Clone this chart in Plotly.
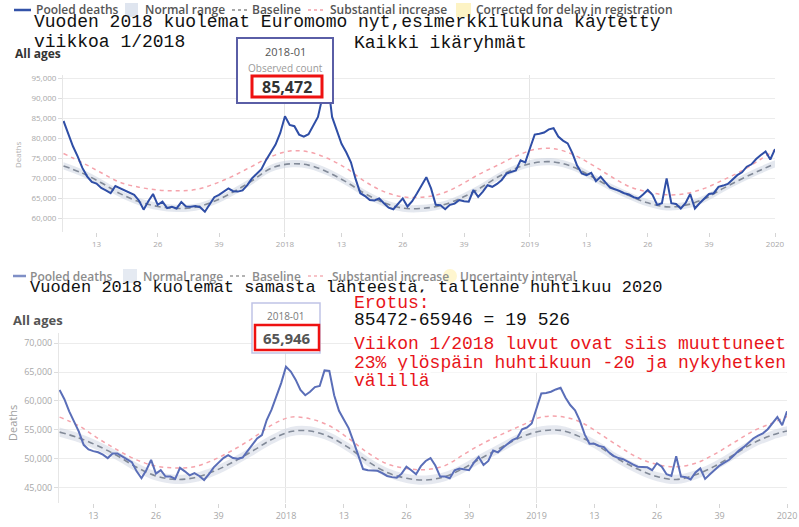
import plotly.graph_objects as go

W, H = 799, 527

# ---------------- data ----------------
# week offsets relative to ISO week 2018-01 (2017-06 ... 2020-01)
weeks = list(range(-47, 105))

top_pooled = [
    84300, 81000, 78000, 75500, 72600, 70500, 69100, 68700, 67600, 67000,   # -47..-38
    66300, 68100, 67500, 67000, 66400, 65900, 64500, 62200, 64300, 66100,   # -37..-28
    63400, 64200, 62600, 62900, 62500, 64100, 63000, 62900, 63100, 62800,   # -27..-18
    61700, 63400, 65300, 65900, 66600, 67500, 66800, 66700, 67000, 68300,   # -17..-8
    70000, 71200, 72300, 74600, 76500, 78400, 81300, 85472, 83300, 83000,   # -7..2
    80900, 80400, 81000, 83000, 85300, 90500, 95000, 85300, 81700, 78600,   # 3..12
    76500, 74000, 69800, 66300, 65600, 64600, 64500, 65000, 63800, 62700,   # 13..22
    62300, 63800, 65000, 63000, 64300, 66200, 68300, 70300, 67500, 63400,   # 23..32
    63300, 62300, 63400, 63700, 64600, 64300, 64200, 67100, 65400, 66700,   # 33..42
    68300, 67900, 68600, 69600, 71200, 71700, 72000, 74500, 74000, 77500,   # 43..52
    80900, 81100, 81400, 82200, 82500, 80400, 79400, 78700, 76300, 73200,   # 53..62
    71200, 70800, 71400, 69300, 70400, 69000, 67700, 67300, 66900, 66300,   # 63..72
    66000, 65300, 65000, 66000, 67100, 65900, 63400, 63800, 70000, 63800,   # 73..82
    63600, 62500, 63800, 66100, 62500, 63800, 65000, 66100, 66300, 67900,   # 83..92
    68200, 68600, 69700, 70800, 71500, 72900, 73500, 74800, 75800, 76700,   # 93..102
    74700, 77300,                                                           # 103..104
]

bot_pooled = [
    61900, 60300, 58200, 56400, 54700, 52400, 51600, 51300, 51100, 50700,   # -47..-38
    50100, 50900, 50900, 50400, 49900, 49400, 47800, 46600, 48000, 49800,   # -37..-28
    47400, 48000, 46900, 46900, 46500, 48400, 47800, 47100, 47500, 47000,   # -27..-18
    46300, 47300, 48500, 49300, 50100, 50600, 50100, 50000, 50200, 51300,   # -17..-8
    52500, 53500, 54100, 56700, 58500, 60800, 63100, 65946, 65100, 63700,   # -7..2
    61900, 61000, 61600, 62400, 62600, 65300, 65200, 61000, 58300, 56800,   # 3..12
    55300, 53000, 50400, 48200, 48000, 48000, 47900, 47500, 47000, 46800,   # 13..22
    46700, 47400, 48600, 48000, 47300, 48700, 49600, 50100, 48800, 46900,   # 23..32
    46900, 46600, 48000, 48300, 48200, 48000, 49300, 50300, 48900, 49600,   # 33..42
    51400, 51100, 51900, 52500, 53200, 53600, 55100, 55400, 56100, 58700,   # 43..52
    61300, 61400, 61600, 62000, 62300, 60600, 59300, 58400, 56600, 54200,   # 53..62
    52600, 52600, 52200, 52000, 51100, 50500, 50100, 49900, 49400, 49000,   # 63..72
    48600, 48600, 48500, 48000, 49200, 48600, 47300, 47000, 50400, 46900,   # 73..82
    46800, 46400, 47600, 48300, 46500, 47300, 48100, 48800, 49300, 49800,   # 83..92
    50600, 51400, 52000, 52700, 53500, 54000, 54400, 55100, 56100, 57200,   # 93..102
    55800, 58200,                                                           # 103..104
]

# reference curves read every 4 weeks
sample_weeks = [-47, -43, -39, -35, -31, -27, -23, -19, -15, -11, -7, -3, 1, 5, 9, 13,
                17, 21, 25, 29, 33, 37, 41, 45, 49, 53, 57, 61, 65, 69, 73, 77, 81,
                85, 89, 93, 97, 101, 104]

top_baseline = [73100, 71300, 68900, 66200, 64200, 63000, 62500, 62800, 64300, 66600,
                69400, 72500, 73600, 73300, 71600, 69100, 66200, 63900, 62600, 62500,
                63200, 64900, 67300, 70200, 72500, 73900, 74100, 72900, 70500, 67900,
                65700, 63900, 62900, 63300, 64900, 67500, 69900, 72100, 73600]
top_range_lo = [72200, 70400, 68000, 65300, 63300, 62100, 61600, 61900, 63400, 65700,
                68500, 71600, 72700, 72400, 70700, 68200, 65300, 63000, 61700, 61600,
                62300, 64000, 66400, 69300, 71600, 73000, 73200, 72000, 69600, 67000,
                64800, 63000, 62000, 62400, 64000, 66600, 69000, 71200, 72700]
top_range_hi = [74000, 72200, 69800, 67100, 65100, 63900, 63400, 63700, 65200, 67500,
                70300, 73400, 74500, 74200, 72500, 70000, 67100, 64800, 63500, 63400,
                64100, 65800, 68200, 71100, 73400, 74800, 75000, 73800, 71400, 68800,
                66600, 64800, 63800, 64200, 65800, 68400, 70800, 73000, 74500]
top_substantial = [76200, 73900, 71400, 69000, 67800, 67100, 66900, 67200, 68600, 70600,
                   73000, 75400, 76800, 76600, 75000, 72500, 69200, 66700, 65400, 65300,
                   66100, 68200, 70900, 73200, 75500, 77200, 77400, 76000, 73500, 70600,
                   68000, 66600, 65900, 66200, 67500, 69600, 71900, 74800, 77100]

bot_baseline = [54600, 53600, 52200, 50500, 48500, 47000, 46400, 46700, 47800, 49400,
                51300, 53300, 54700, 54800, 53800, 51900, 49500, 47600, 46600, 46300,
                46900, 48400, 50300, 52100, 53800, 54800, 54900, 53800, 52100, 49900,
                48200, 46900, 46400, 47200, 48700, 50700, 52700, 54100, 54800]
bot_range_lo = [53800, 52800, 51400, 49700, 47700, 46200, 45600, 45900, 47000, 48600,
                50500, 52500, 53900, 54000, 53000, 51100, 48700, 46800, 45800, 45500,
                46100, 47600, 49500, 51300, 53000, 54000, 54100, 53000, 51300, 49100,
                47400, 46100, 45600, 46400, 47900, 49900, 51900, 53300, 54000]
bot_range_hi = [55400, 54400, 53000, 51300, 49300, 47800, 47200, 47500, 48600, 50200,
                52100, 54100, 55500, 55600, 54600, 52700, 50300, 48400, 47400, 47100,
                47700, 49200, 51100, 52900, 54600, 55600, 55700, 54600, 52900, 50700,
                49000, 47700, 47200, 48000, 49500, 51500, 53500, 54900, 55600]
bot_substantial = [57200, 55700, 53500, 51500, 49800, 48700, 48400, 48600, 49800, 51500,
                   53500, 55800, 57200, 56900, 55700, 53500, 51000, 49100, 48300, 48100,
                   48800, 50800, 52700, 54300, 55800, 57200, 57300, 56400, 54400, 52200,
                   50200, 49000, 48600, 49200, 50800, 52800, 54800, 56200, 57300]

x_tick_weeks = [-40, -27, -14, 0, 12, 25, 38, 52, 64, 77, 90, 104]
x_tick_labels = ["13", "26", "39", "2018", "13", "26", "39", "2019", "13", "26", "39", "2020"]
year_weeks = [0, 52, 104]
top_y_ticks = [60000, 65000, 70000, 75000, 80000, 85000, 90000, 95000]
bot_y_ticks = [45000, 50000, 55000, 60000, 65000, 70000]

HIGHLIGHT_WEEK = 0
HIGHLIGHT_LABEL = "2018-01"

# ---------------- helpers (pixel -> paper) ----------------
def fx(p):
    return p / W

def fy(p):
    return 1 - p / H

MONO = "Liberation Mono"
SANS = "Open Sans"

fig = go.Figure()

def add_chart(xa, ya, pooled, base, lo, hi, subst, line_color, band_color):
    fig.add_trace(go.Scatter(x=sample_weeks, y=lo, mode="lines",
                             line=dict(width=0, shape="spline"), xaxis=xa, yaxis=ya,
                             hoverinfo="skip", showlegend=False))
    fig.add_trace(go.Scatter(x=sample_weeks, y=hi, mode="lines", fill="tonexty",
                             fillcolor=band_color,
                             line=dict(width=0, shape="spline"), xaxis=xa, yaxis=ya,
                             hoverinfo="skip", showlegend=False))
    fig.add_trace(go.Scatter(x=sample_weeks, y=base, mode="lines",
                             line=dict(color="#828a98", width=1.6, dash="6px,4px", shape="spline"),
                             xaxis=xa, yaxis=ya, showlegend=False))
    fig.add_trace(go.Scatter(x=sample_weeks, y=subst, mode="lines",
                             line=dict(color="#f5a3ab", width=1.5, dash="4px,4px", shape="spline"),
                             xaxis=xa, yaxis=ya, showlegend=False))
    fig.add_trace(go.Scatter(x=weeks, y=pooled, mode="lines",
                             line=dict(color=line_color, width=2),
                             xaxis=xa, yaxis=ya, showlegend=False))

add_chart("x", "y", top_pooled, top_baseline, top_range_lo, top_range_hi, top_substantial,
          "#2f4ea6", "rgba(195,203,220,0.45)")
add_chart("x2", "y2", bot_pooled, bot_baseline, bot_range_lo, bot_range_hi, bot_substantial,
          "#5a6eb8", "rgba(200,207,222,0.45)")

def xaxis_cfg(domain, rng, fsize):
    return dict(domain=domain, range=rng, tickmode="array", tickvals=x_tick_weeks,
                ticktext=x_tick_labels, showgrid=False, zeroline=False,
                ticks="outside", ticklen=4, tickcolor="#d5d5d5", automargin=False,
                tickfont=dict(family=SANS, size=fsize, color="#a8a8a8"),
                minor=dict(tickmode="array", tickvals=year_weeks, showgrid=True,
                           gridcolor="#e4e4e4", gridwidth=1, ticks=""),
                fixedrange=True)

def yaxis_cfg(domain, rng, ticks, fsize, anchor):
    return dict(domain=domain, range=rng, tickmode="array", tickvals=ticks,
                tickformat=",d", showgrid=True, gridcolor="#ececec", gridwidth=1,
                zeroline=False, ticks="outside", ticklen=4, tickcolor="#dddddd",
                showline=True, linecolor="#e6e6e6", linewidth=1, automargin=False,
                tickfont=dict(family=SANS, size=fsize, color="#a8a8a8"),
                anchor=anchor, fixedrange=True)

fig.update_layout(
    width=W, height=H, margin=dict(l=0, r=0, t=0, b=0, pad=0, autoexpand=False),
    paper_bgcolor="white", plot_bgcolor="white", showlegend=False,
    xaxis=dict(anchor="y", **xaxis_cfg([fx(63), fx(775)], [-47.11, 104], 8)),
    yaxis=yaxis_cfg([fy(232), fy(75)], [56637, 95747], top_y_ticks, 8, "x"),
    xaxis2=dict(anchor="y2", **xaxis_cfg([fx(59), fx(787)], [-47.12, 104], 9)),
    yaxis2=yaxis_cfg([fy(503), fy(333)], [42313, 71786], bot_y_ticks, 9, "x2"),
)

shapes = []
ann = []

def text(x, y, s, size, color, family=SANS, anchor="left", weight="normal", angle=0, **kw):
    ann.append(dict(x=fx(x), y=fy(y), xref="paper", yref="paper", text=s, showarrow=False,
                    xanchor=anchor, yanchor="middle", textangle=angle,
                    font=dict(family=family, size=size, color=color, weight=weight), **kw))

# ---------- legends ----------
def legend_row(yc, items, fsize, fcolor):
    for kind, x0, x1, color, label, lx in items:
        if kind == "line":
            shapes.append(dict(type="line", xref="paper", yref="paper", x0=fx(x0), x1=fx(x1),
                               y0=fy(yc), y1=fy(yc), line=dict(color=color, width=2.5)))
        elif kind == "dot":
            shapes.append(dict(type="line", xref="paper", yref="paper", x0=fx(x0), x1=fx(x1),
                               y0=fy(yc), y1=fy(yc), line=dict(color=color, width=1.5, dash="dot")))
        elif kind == "rect":
            shapes.append(dict(type="rect", xref="paper", yref="paper", x0=fx(x0), x1=fx(x1),
                               y0=fy(yc + 7), y1=fy(yc - 7), fillcolor=color, line=dict(width=0)))
        elif kind == "circle":
            shapes.append(dict(type="circle", xref="paper", yref="paper", x0=fx(x0), x1=fx(x1),
                               y0=fy(yc + 7), y1=fy(yc - 7), fillcolor=color, line=dict(width=0)))
        text(lx, yc, label, fsize, fcolor, weight=600)

legend_row(10, [
    ("line", 14, 31, "#3352a8", "Pooled deaths", 34),
    ("rect", 125, 138, "#dfe5ef", "Normal range", 143),
    ("dot", 232, 248, "#8a8a8a", "Baseline", 250),
    ("dot", 308, 325, "#f2a0a8", "Substantial increase", 328),
    ("rect", 456, 471, "#fdf3c4", "Corrected for delay in registration", 474),
], 12, "#555555")

legend_row(276, [
    ("line", 13, 26, "#7f8fc6", "Pooled deaths", 28),
    ("rect", 123, 137, "#e5eaf2", "Normal range", 141),
    ("dot", 230, 247, "#9a9a9a", "Baseline", 250),
    ("dot", 308, 325, "#f5b0b6", "Substantial increase", 330),
    ("circle", 443, 457, "#fff6cf", "Uncertainty interval", 458),
], 12, "#8c8c8c")

# ---------- axis side labels ----------
text(13, 53, "All ages", 12, "#333333", weight=700)
text(11, 320, "All ages", 13, "#555555", weight=700)
text(17, 155, "Deaths", 8, "#b0b0b0", anchor="center", angle=-90)
text(12, 423, "Deaths", 11, "#a0a0a0", anchor="center", angle=-90)

# ---------- highlighted-week boxes ----------
hi_idx = weeks.index(HIGHLIGHT_WEEK)
shapes.append(dict(type="rect", xref="paper", yref="paper", x0=fx(237), x1=fx(333),
                   y0=fy(103), y1=fy(38), fillcolor="white", line=dict(color="#5a5ea6", width=2)))
shapes.append(dict(type="rect", xref="paper", yref="paper", x0=fx(252), x1=fx(322),
                   y0=fy(97), y1=fy(76), line=dict(color="#ee1111", width=3)))
text(285, 52, HIGHLIGHT_LABEL, 11, "#555555", anchor="center")
text(285, 68, "Observed count", 10, "#9a9a9a", anchor="center")
text(287, 87, f"{top_pooled[hi_idx]:,}", 16, "#333333", anchor="center", weight=700)

shapes.append(dict(type="rect", xref="paper", yref="paper", x0=fx(252), x1=fx(320),
                   y0=fy(353), y1=fy(303), fillcolor="white", line=dict(color="#c0c3e6", width=1.5)))
shapes.append(dict(type="rect", xref="paper", yref="paper", x0=fx(255), x1=fx(319),
                   y0=fy(350), y1=fy(325), line=dict(color="#ee1111", width=2.5)))
text(286, 316, HIGHLIGHT_LABEL, 10, "#7a7a7a", anchor="center")
text(287, 338, f"{bot_pooled[hi_idx]:,}", 15, "#555555", anchor="center", weight=700)

# ---------- overlay commentary ----------
BLACK = "#111111"
RED = "#e8141a"
text(32, 22, "Vuoden 2018 kuolemat Euromomo nyt,esimerkkilukuna käytetty", 18, BLACK, family=MONO)
text(32, 42, "viikkoa 1/2018", 18, BLACK, family=MONO)
text(352, 43, "Kaikki ikäryhmät", 18, BLACK, family=MONO)
text(28, 287, "Vuoden 2018 kuolemat samasta lähteestä, tallenne huhtikuu 2020", 17, BLACK,
     family=MONO)
text(353, 303, "Erotus:", 18, RED, family=MONO, bgcolor="white", borderpad=0)
text(353, 320, "85472-65946 = 19 526", 18, BLACK, family=MONO, bgcolor="white", borderpad=0)
text(353, 343, "Viikon 1/2018 luvut ovat siis muuttuneet", 18, RED, family=MONO,
     bgcolor="white", borderpad=0, height=19)
text(353, 362, "23% ylöspäin huhtikuun -20 ja nykyhetken", 18, RED, family=MONO,
     bgcolor="white", borderpad=0, height=19)
text(353, 380, "välillä", 18, RED, family=MONO, bgcolor="white", borderpad=0, height=19)

fig.update_layout(shapes=shapes, annotations=ann)
fig.write_html("out.html")
